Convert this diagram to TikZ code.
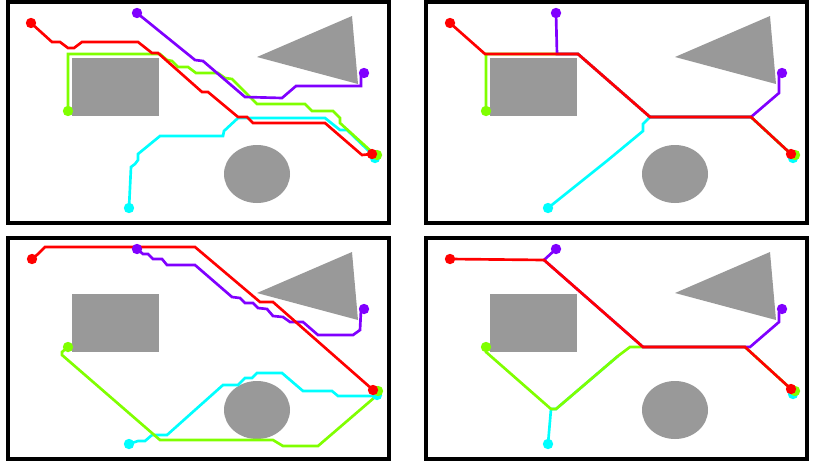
\documentclass[tikz,border=0pt]{standalone}
\definecolor{pr}{RGB}{255,0,0}
\definecolor{pp}{RGB}{128,0,255}
\definecolor{pg}{RGB}{128,255,0}
\definecolor{pc}{RGB}{0,255,255}
\definecolor{obs}{RGB}{153,153,153}
\tikzset{
  route/.style={draw=#1, line width=2pt, line join=miter},
  enddot/.style={fill=#1, draw=none},
  frame/.style={draw=black, line width=2.4pt},
  obst/.style={fill=obs, draw=none}
}
\newcommand\myobstacles{%
  \fill[obst] (72,58) rectangle (159,116);
  \fill[obst] (257,57) -- (352,16) -- (358,84) -- cycle;
  \fill[obst] (257,174) ellipse [x radius=24.75pt, y radius=21.75pt];
  \draw[frame] (8,2) rectangle (389,223);
}
\newcommand\mydot[2]{\fill[enddot=#1] (#2) circle [radius=3.9pt];}
\begin{document}
\begin{tikzpicture}[x=0.75pt,y=-0.75pt]
\useasboundingbox (0,0) rectangle (816,468);
\fill[white] (0,0) rectangle (816,468);
% ---------- panel 1 ----------
\begin{scope}
  \myobstacles
  \draw[route=pc] (129,208) -- (131,167) -- (135,164) -- (138,160) -- (138,154) -- (160,136) -- (223,136) -- (224,131) -- (238,118) -- (325,118) -- (340,130) -- (347,130) -- (373,155);
  \draw[route=pg] (68,111) -- (68,54) -- (160,54) -- (167,60) -- (172,61) -- (178,67) -- (188,67) -- (196,73) -- (218,73) -- (225,78) -- (232,79) -- (257,104) -- (305,104) -- (312,111) -- (333,111) -- (340,118) -- (340,123) -- (373,153);
  \draw[route=pp] (137,13) -- (195,60) -- (203,61) -- (245,97) -- (282,98) -- (296,86) -- (361,86) -- (361,73);
  \draw[route=pr] (31,23) -- (52,42) -- (60,42) -- (68,48) -- (74,48) -- (82,42) -- (138,42) -- (152,53) -- (158,53) -- (202,92) -- (208,92) -- (238,117) -- (247,117) -- (253,123) -- (325,123) -- (362,155) -- (372,154);
  \mydot{pc}{129,208} \mydot{pg}{68,111} \mydot{pp}{137,13} \mydot{pr}{31,23}
  \mydot{pp}{364,73}
  \mydot{pc}{375,158} \mydot{pg}{377,155} \mydot{pr}{372,154}
\end{scope}
% ---------- panel 2 ----------
\begin{scope}[shift={(418,0)}]
  \myobstacles
\end{scope}
\begin{scope}
  \draw[route=pc] (548,208) -- (608,160) -- (643,131) -- (643,124) -- (650,117) -- (751,117) -- (791,154);
  \draw[route=pg] (486,111) -- (486,54) -- (578,54) -- (650,117) -- (751,117) -- (791,154);
  \draw[route=pp] (556,13) -- (557,54) -- (578,54) -- (650,117) -- (751,117) -- (779,93) -- (779,73);
  \draw[route=pr] (450,23) -- (485,54) -- (578,54) -- (650,117) -- (751,117) -- (791,154);
  \mydot{pc}{793,158} \mydot{pg}{795,155} \mydot{pr}{791,154}
  \mydot{pc}{548,208} \mydot{pg}{486,111} \mydot{pp}{556,13} \mydot{pr}{450,23}
  \mydot{pp}{782,73}
\end{scope}
% ---------- panel 3 ----------
\begin{scope}[shift={(0,236)}]
  \myobstacles
\end{scope}
\begin{scope}
  \draw[route=pc] (129,444) -- (138,441) -- (145,441) -- (152,435) -- (167,435) -- (223,385) -- (238,385) -- (245,378) -- (252,378) -- (257,373) -- (282,373) -- (303,391) -- (332,391) -- (338,396) -- (375,396);
  \draw[route=pg] (68,347) -- (62,352) -- (62,355) -- (160,440) -- (273,440) -- (283,446) -- (318,446) -- (375,397);
  \draw[route=pp] (137,249) -- (143,254) -- (148,254) -- (153,259) -- (162,259) -- (167,265) -- (195,265) -- (232,297) -- (240,298) -- (245,303) -- (253,303) -- (258,308) -- (267,309) -- (273,316) -- (283,317) -- (290,322) -- (303,322) -- (318,335) -- (353,335) -- (360,330) -- (361,310);
  \draw[route=pr] (32,259) -- (38,254) -- (45,247) -- (195,247) -- (260,302) -- (273,302) -- (372,389);
  \mydot{pc}{129,444} \mydot{pg}{68,347} \mydot{pp}{137,249} \mydot{pr}{32,259}
  \mydot{pp}{364,309}
  \mydot{pc}{377,395} \mydot{pg}{378,391} \mydot{pr}{373,390}
\end{scope}
% ---------- panel 4 ----------
\begin{scope}[shift={(418,236)}]
  \myobstacles
\end{scope}
\begin{scope}
  \draw[route=pc] (548,444) -- (551,409) -- (556,409) -- (618,356);
  \draw[route=pg] (486,347) -- (486,352) -- (551,409) -- (556,409) -- (618,356) -- (630,347) -- (745,347) -- (791,389);
  \draw[route=pp] (556,249) -- (544,260) -- (643,347) -- (750,347) -- (779,322) -- (779,312);
  \draw[route=pr] (450,259) -- (544,260) -- (643,347) -- (745,347) -- (791,389);
  \mydot{pc}{793,394} \mydot{pg}{795,391} \mydot{pr}{791,389}
  \mydot{pc}{548,444} \mydot{pg}{486,347} \mydot{pp}{556,249} \mydot{pr}{450,259}
  \mydot{pp}{782,309}
\end{scope}
\end{tikzpicture}
\end{document}
